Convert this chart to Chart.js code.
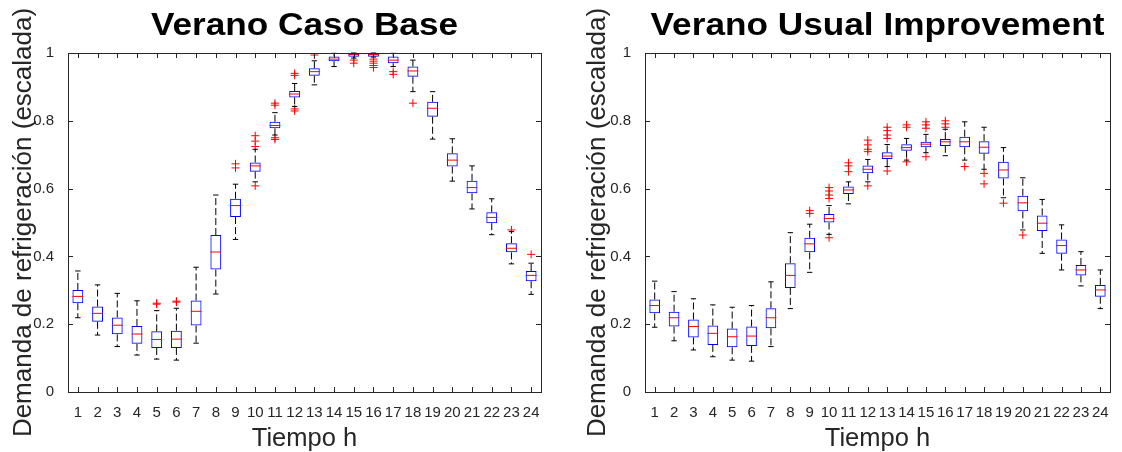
<!DOCTYPE html>
<html lang="es">
  <head>
    <meta charset="UTF-8" />
    <title>Verano - demanda de refrigeración</title>
    <style>
      * {
        margin: 0;
        padding: 0;
        box-sizing: border-box;
      }
      body {
        width: 1122px;
        height: 452px;
        background: white;
        position: relative;
        overflow: hidden;
      }
      canvas {
        position: absolute;
        top: 0;
      }
      #chartBase {
        left: 0;
      }
      #chartUsual {
        left: 561px;
      }
    </style>
  </head>
  <body>
    <canvas id="chartBase" width="561" height="452"></canvas>
    <canvas id="chartUsual" width="561" height="452"></canvas>

    <script src="https://cdn.jsdelivr.net/npm/chart.js"></script>

    <script>
      const hours = ["1", "2", "3", "4", "5", "6", "7", "8", "9", "10", "11", "12",
        "13", "14", "15", "16", "17", "18", "19", "20", "21", "22", "23", "24"];
      const yTickValues = [0, 0.2, 0.4, 0.6, 0.8, 1];

      // Verano Caso Base
      const baseLow = [0.219, 0.168, 0.134, 0.109, 0.097, 0.094, 0.144, 0.289, 0.450, 0.620, 0.758, 0.842,
        0.906, 0.960, 0.985, 0.988, 0.960, 0.886, 0.746, 0.622, 0.540, 0.464, 0.378, 0.288];
      const baseQ1 = [0.262, 0.207, 0.170, 0.142, 0.130, 0.130, 0.196, 0.361, 0.516, 0.650, 0.778, 0.869,
        0.933, 0.976, 0.989, 0.989, 0.970, 0.930, 0.812, 0.665, 0.586, 0.498, 0.412, 0.327];
      const baseMed = [0.282, 0.232, 0.197, 0.171, 0.155, 0.156, 0.238, 0.413, 0.550, 0.667, 0.786, 0.879,
        0.945, 0.982, 0.995, 0.995, 0.979, 0.947, 0.837, 0.684, 0.603, 0.515, 0.424, 0.344];
      const baseQ3 = [0.301, 0.252, 0.220, 0.195, 0.179, 0.181, 0.270, 0.463, 0.570, 0.677, 0.797, 0.888,
        0.955, 0.990, 0.998, 0.998, 0.990, 0.960, 0.856, 0.704, 0.623, 0.530, 0.439, 0.357];
      const baseHigh = [0.357, 0.316, 0.291, 0.269, 0.240, 0.247, 0.368, 0.581, 0.613, 0.716, 0.824, 0.910,
        0.977, 0.999, 1.0, 1.0, 0.999, 0.979, 0.886, 0.747, 0.667, 0.570, 0.473, 0.380];
      const baseOut = [[], [], [], [], [0.259, 0.262], [0.265, 0.268], [], [], [0.661, 0.673],
        [0.724, 0.740, 0.756, 0.608], [0.846, 0.852, 0.750, 0.745], [0.934, 0.940, 0.835, 0.829],
        [0.994], [], [0.979, 0.970], [0.982, 0.976, 0.970, 0.963, 0.957], [0.945, 0.937], [0.852],
        [], [], [], [], [0.478], [0.406]];

      // Verano Usual Improvement
      const usualLow = [0.191, 0.151, 0.124, 0.104, 0.094, 0.091, 0.134, 0.246, 0.353, 0.465, 0.555, 0.620,
        0.665, 0.684, 0.706, 0.697, 0.684, 0.657, 0.573, 0.478, 0.409, 0.360, 0.313, 0.246];
      const usualQ1 = [0.232, 0.193, 0.161, 0.139, 0.132, 0.136, 0.188, 0.307, 0.412, 0.500, 0.584, 0.645,
        0.687, 0.712, 0.722, 0.726, 0.722, 0.703, 0.630, 0.533, 0.475, 0.408, 0.344, 0.281];
      const usualMed = [0.255, 0.219, 0.193, 0.173, 0.163, 0.165, 0.219, 0.344, 0.437, 0.512, 0.596, 0.657,
        0.696, 0.721, 0.731, 0.738, 0.738, 0.722, 0.655, 0.558, 0.498, 0.432, 0.360, 0.301];
      const usualQ3 = [0.273, 0.237, 0.214, 0.196, 0.187, 0.193, 0.247, 0.380, 0.455, 0.525, 0.606, 0.668,
        0.707, 0.731, 0.738, 0.746, 0.753, 0.740, 0.679, 0.579, 0.521, 0.450, 0.375, 0.316];
      const usualHigh = [0.327, 0.296, 0.275, 0.257, 0.250, 0.255, 0.325, 0.470, 0.495, 0.550, 0.620, 0.686,
        0.730, 0.748, 0.760, 0.775, 0.797, 0.781, 0.721, 0.632, 0.568, 0.493, 0.414, 0.360];
      const usualOut = [[], [], [], [], [], [], [], [], [0.535, 0.527],
        [0.603, 0.593, 0.581, 0.571, 0.455], [0.676, 0.667, 0.650], [0.743, 0.729, 0.716, 0.709, 0.608],
        [0.781, 0.771, 0.758, 0.748, 0.652], [0.788, 0.781, 0.679], [0.797, 0.788, 0.778, 0.694],
        [0.800, 0.791, 0.781], [0.665], [0.645, 0.614], [0.557], [0.463], [], [], [], []];

      const fontFamily = "Arial, 'Liberation Sans', Helvetica, sans-serif";
      Chart.defaults.font.family = fontFamily;
      const axisColor = "#262626";

      function makeChart(id, title, low, q1, med, q3, high, out, frame) {
        // whiskers, caps and medians, placed with the chart scales
        const boxParts = {
          id: "boxParts",
          afterDatasetsDraw(chart) {
            const { ctx, scales } = chart;
            const bars = chart.getDatasetMeta(0).data;
            ctx.save();
            bars.forEach((bar, i) => {
              const x = bar.x;
              const w = bar.width;
              const yLow = scales.y.getPixelForValue(low[i]);
              const yQ1 = scales.y.getPixelForValue(q1[i]);
              const yMed = scales.y.getPixelForValue(med[i]);
              const yQ3 = scales.y.getPixelForValue(q3[i]);
              const yHigh = scales.y.getPixelForValue(high[i]);

              ctx.strokeStyle = "#000000";
              ctx.lineWidth = 1;
              ctx.setLineDash([7, 3]);
              ctx.beginPath();
              ctx.moveTo(x, yQ3);
              ctx.lineTo(x, yHigh);
              ctx.moveTo(x, yQ1);
              ctx.lineTo(x, yLow);
              ctx.stroke();

              ctx.setLineDash([]);
              ctx.beginPath();
              ctx.moveTo(x - w / 4, yHigh);
              ctx.lineTo(x + w / 4, yHigh);
              ctx.moveTo(x - w / 4, yLow);
              ctx.lineTo(x + w / 4, yLow);
              ctx.stroke();

              ctx.strokeStyle = "#ff0000";
              ctx.beginPath();
              ctx.moveTo(x - w / 2, yMed);
              ctx.lineTo(x + w / 2, yMed);
              ctx.stroke();
            });
            ctx.restore();
          },
        };

        // box frame with inward ticks on all four sides, plus the bold title
        const axesBox = {
          id: "axesBox",
          afterDraw(chart) {
            const { ctx, chartArea, scales } = chart;
            const { left, right, top, bottom } = chartArea;
            const t = 5;
            ctx.save();
            ctx.strokeStyle = axisColor;
            ctx.lineWidth = 1;
            ctx.strokeRect(left + 0.5, top + 0.5, right - left, bottom - top);
            ctx.beginPath();
            scales.x.ticks.forEach((tk, i) => {
              const px = Math.round(scales.x.getPixelForTick(i)) + 0.5;
              ctx.moveTo(px, bottom);
              ctx.lineTo(px, bottom - t);
              ctx.moveTo(px, top);
              ctx.lineTo(px, top + t);
            });
            scales.y.ticks.forEach((tk, i) => {
              const py = Math.round(scales.y.getPixelForTick(i)) + 0.5;
              ctx.moveTo(left, py);
              ctx.lineTo(left + t, py);
              ctx.moveTo(right, py);
              ctx.lineTo(right - t, py);
            });
            ctx.stroke();

            ctx.translate((left + right) / 2, 35);
            ctx.scale(1.1, 1);
            ctx.fillStyle = "#000000";
            ctx.font = "bold 32px " + fontFamily;
            ctx.textAlign = "center";
            ctx.textBaseline = "alphabetic";
            ctx.fillText(title, 0, 0);
            ctx.restore();
          },
        };

        const outliers = out.flatMap((list, i) => list.map((v) => ({ x: hours[i], y: v })));

        return new Chart(document.getElementById(id), {
          type: "bar",
          data: {
            labels: hours,
            datasets: [
              {
                type: "bar",
                data: q1.map((v, i) => [v, q3[i]]),
                backgroundColor: "rgba(0,0,0,0)",
                borderColor: "#0000ff",
                borderWidth: 1,
                borderSkipped: false,
                barPercentage: 0.55,
                categoryPercentage: 1,
                order: 2,
              },
              {
                type: "line",
                data: outliers,
                showLine: false,
                pointStyle: "cross",
                pointRadius: 4,
                pointBorderWidth: 1,
                pointBorderColor: "#ff0000",
                pointBackgroundColor: "#ff0000",
                order: 1,
              },
            ],
          },
          options: {
            responsive: false,
            animation: false,
            events: [],
            layout: { padding: { left: 0, right: frame.right, top: 53, bottom: 0 } },
            plugins: {
              legend: { display: false },
              tooltip: { enabled: false },
            },
            scales: {
              x: {
                grid: { display: false },
                border: { display: false },
                ticks: {
                  color: axisColor,
                  font: { size: 15 },
                  padding: 4,
                  maxRotation: 0,
                  autoSkip: false,
                },
                title: {
                  display: true,
                  text: "Tiempo h",
                  color: axisColor,
                  font: { size: 25.5, lineHeight: 1 },
                  padding: { top: 0, bottom: 0 },
                },
                afterFit(scale) {
                  scale.height = 60;
                },
              },
              y: {
                min: 0,
                max: 1,
                grid: { display: false },
                border: { display: false },
                afterBuildTicks(scale) {
                  scale.ticks = yTickValues.map((v) => ({ value: v }));
                },
                ticks: {
                  color: axisColor,
                  font: { size: 15 },
                  padding: 6,
                  callback: (v) => String(Number(v.toFixed(1))),
                },
                title: {
                  display: true,
                  text: "Demanda de refrigeración (escalada)",
                  color: axisColor,
                  font: { size: 26, lineHeight: 1 },
                  padding: { top: frame.titlePad, bottom: 0 },
                },
                afterFit(scale) {
                  scale.width = frame.left;
                },
              },
            },
          },
          plugins: [boxParts, axesBox],
        });
      }

      makeChart("chartBase", "Verano Caso Base",
        baseLow, baseQ1, baseMed, baseQ3, baseHigh, baseOut,
        { left: 68, right: 20, titlePad: 11 });
      makeChart("chartUsual", "Verano Usual Improvement",
        usualLow, usualQ1, usualMed, usualQ3, usualHigh, usualOut,
        { left: 84, right: 12, titlePad: 24 });
    </script>
  </body>
</html>
